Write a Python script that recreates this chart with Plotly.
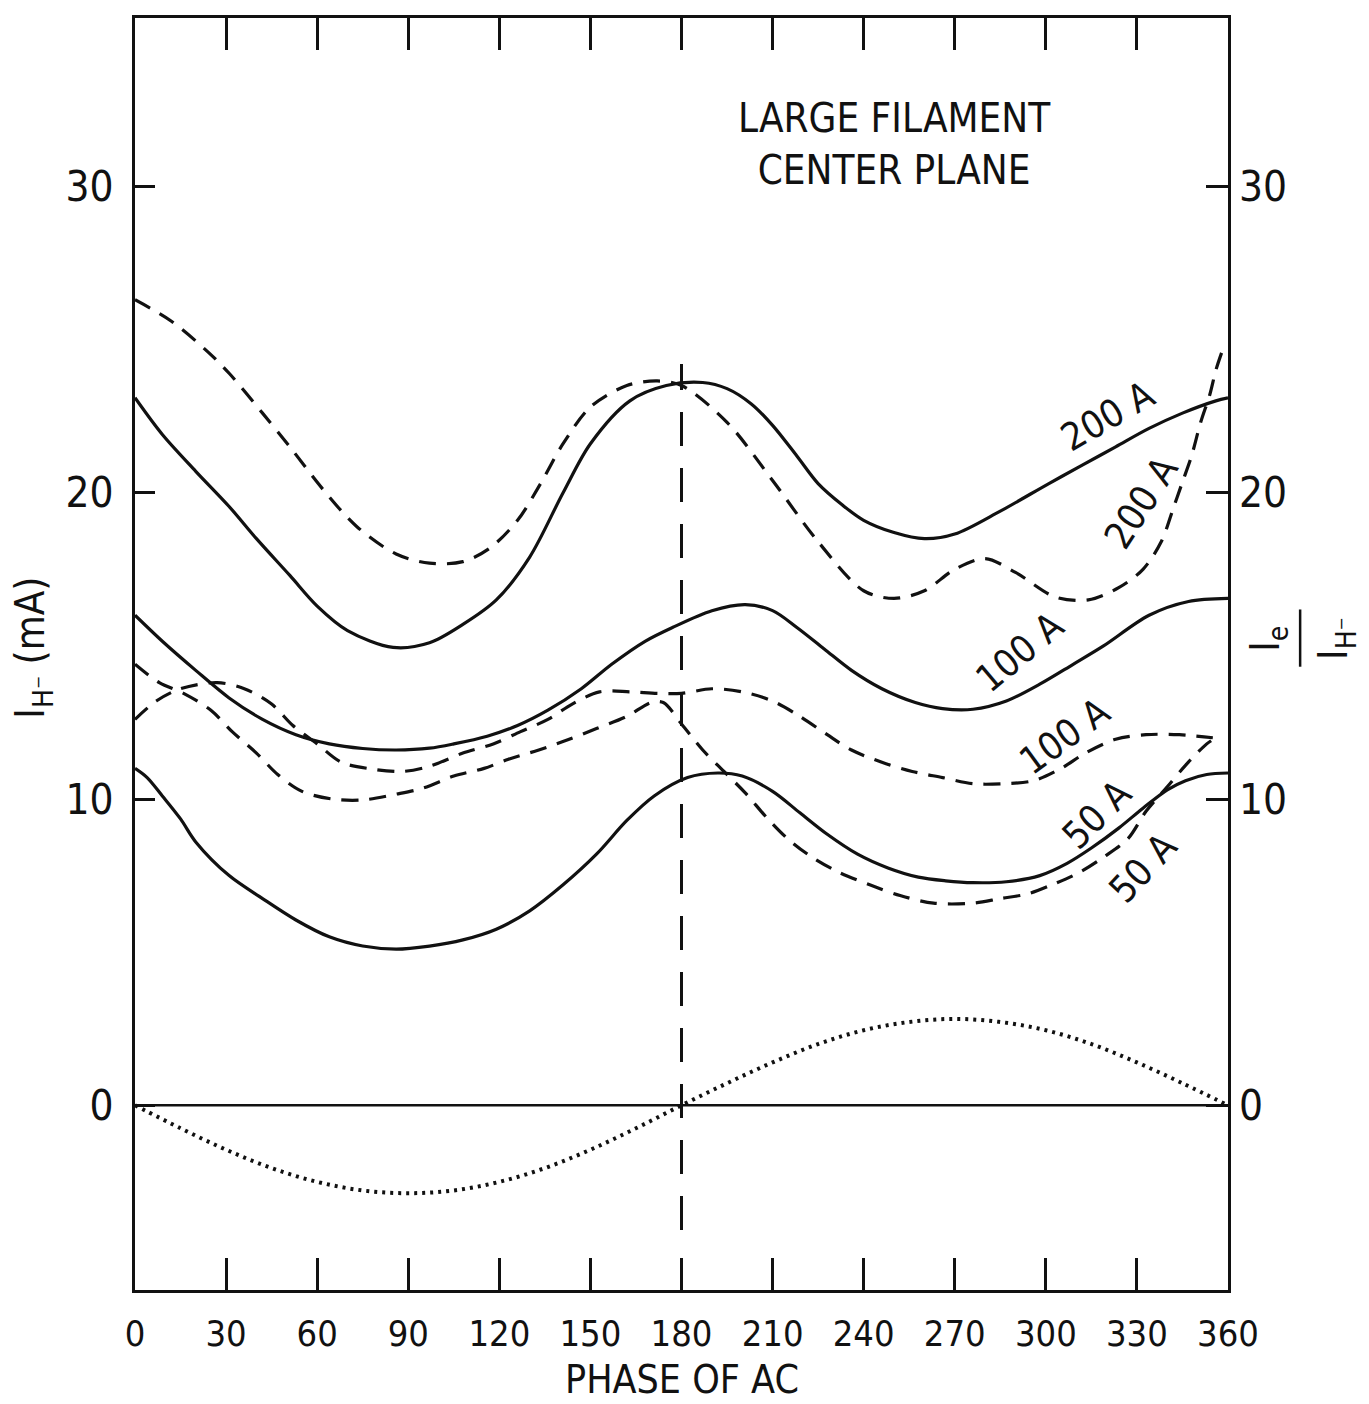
import plotly.graph_objects as go

# ---------------- data ----------------
x_ticks = [0, 30, 60, 90, 120, 150, 180, 210, 240, 270, 300, 330, 360]
y_ticks = [0, 10, 20, 30]

ph_s200 = [0, 9, 20, 31, 40, 51, 60, 70, 85, 97, 108, 119, 130, 141, 150, 163, 175, 187,
           195, 203, 210, 218, 225, 233, 240, 250, 260, 270, 285, 301, 312, 323, 334, 345, 356, 360]
s200 = [23.1, 21.9, 20.7, 19.55, 18.5, 17.3, 16.3, 15.5, 14.95, 15.1, 15.7, 16.5, 17.9, 20.0,
        21.6, 23.0, 23.5, 23.6, 23.4, 22.9, 22.2, 21.2, 20.3, 19.6, 19.1, 18.7, 18.5, 18.65,
        19.4, 20.3, 20.9, 21.5, 22.1, 22.6, 23.0, 23.1]

ph_d200 = [0, 12, 24, 31, 42, 51, 62, 73, 86, 97, 108, 117, 126, 133, 141, 150, 162, 172,
           180, 195, 210, 225, 240, 250, 260, 270, 280, 290, 303, 314, 324, 332, 338, 342,
           345, 348, 351, 354, 356, 358]
d200 = [26.3, 25.6, 24.6, 23.9, 22.6, 21.5, 20.1, 18.9, 18.0, 17.7, 17.75, 18.2, 19.1, 20.2,
        21.6, 22.8, 23.5, 23.65, 23.5, 22.3, 20.4, 18.4, 16.8, 16.55, 16.8, 17.5, 17.85, 17.4,
        16.6, 16.5, 16.9, 17.5, 18.4, 19.5, 20.35, 21.2, 22.3, 23.2, 24.0, 24.6]

ph_s100 = [0, 9, 20, 31, 42, 53, 64, 75, 86, 97, 105, 116, 126, 136, 147, 157, 168, 177,
           190, 201, 210, 218, 227, 236, 246, 257, 266, 276, 287, 298, 309, 319, 334, 347, 360]
s100 = [16.0, 15.15, 14.2, 13.3, 12.6, 12.1, 11.8, 11.65, 11.6, 11.66, 11.8, 12.05, 12.4,
        12.9, 13.6, 14.4, 15.15, 15.6, 16.15, 16.35, 16.15, 15.6, 14.9, 14.2, 13.6, 13.15, 12.95,
        12.93, 13.2, 13.75, 14.4, 15.0, 16.0, 16.45, 16.55]

ph_d100 = [0, 7, 15, 27, 36, 45, 52, 60, 68, 78, 88, 97, 108, 118, 127, 136, 144, 153, 163,
           172, 180, 190, 200, 210, 219, 228, 236, 246, 256, 266, 276, 286, 296, 305, 313,
           323, 333, 344, 355]
d100 = [12.6, 13.2, 13.6, 13.8, 13.6, 13.1, 12.4, 11.8, 11.2, 10.98, 10.9, 11.07, 11.5, 11.8,
        12.2, 12.6, 13.1, 13.5, 13.5, 13.45, 13.45, 13.6, 13.5, 13.2, 12.7, 12.1, 11.6, 11.2,
        10.9, 10.7, 10.5, 10.5, 10.6, 11.0, 11.5, 11.95, 12.1, 12.1, 12.0]

ph_s50 = [0, 4, 9, 15, 20, 31, 42, 53, 64, 75, 86, 97, 108, 119, 130, 141, 152, 162, 171,
          182, 192, 200, 210, 219, 228, 238, 248, 258, 267, 276, 287, 298, 307, 315, 324,
          332, 340, 346, 353, 360]
s50 = [11.0, 10.7, 10.1, 9.35, 8.6, 7.5, 6.75, 6.05, 5.5, 5.2, 5.1, 5.2, 5.4, 5.75, 6.35,
       7.2, 8.2, 9.3, 10.1, 10.7, 10.85, 10.75, 10.25, 9.55, 8.85, 8.2, 7.75, 7.45, 7.33, 7.27,
       7.3, 7.5, 7.9, 8.4, 9.05, 9.7, 10.3, 10.6, 10.8, 10.85]

ph_d50 = [0, 8, 16, 25, 32, 40, 47, 55, 65, 75, 86, 95, 105, 115, 123, 133, 143, 152, 162,
          170, 174, 180, 187, 194, 201, 208, 215, 223, 232, 242, 252, 263, 276, 285, 294,
          302, 311, 319, 327, 333, 340, 346, 353, 356]
d50 = [14.4, 13.8, 13.45, 12.9, 12.2, 11.5, 10.8, 10.25, 10.0, 9.97, 10.16, 10.36, 10.75,
       11.0, 11.3, 11.6, 11.95, 12.3, 12.7, 13.15, 13.15, 12.45, 11.6, 10.9, 10.2, 9.4, 8.7,
       8.1, 7.6, 7.2, 6.85, 6.6, 6.6, 6.75, 6.9, 7.2, 7.6, 8.1, 8.7, 9.6, 10.4, 11.1, 11.8,
       12.0]

ph_ac = [0, 15, 30, 45, 60, 75, 90, 105, 120, 135, 150, 165, 180, 195, 210, 225, 240, 255,
         270, 285, 300, 315, 330, 345, 360]
ac = [0, -0.75, -1.45, -2.05, -2.5, -2.78, -2.87, -2.78, -2.5, -2.05, -1.45, -0.75, 0,
      0.72, 1.4, 2.0, 2.45, 2.72, 2.82, 2.72, 2.45, 2.0, 1.4, 0.72, 0]

zero_x = [0, 360]
zero_y = [0, 0]
marker_x = [180, 180]
marker_y = [-4.07, 24.2]

curve_labels = [
    # text, phase, value, angle
    ("200 A", 320.5, 22.5, -30),
    ("200 A", 331.5, 19.7, -57),
    ("100 A", 291.5, 14.8, -40),
    ("100 A", 306.3, 12.05, -36),
    ("50 A", 317, 9.5, -45),
    ("50 A", 332, 7.75, -47),
]

FONT = "Liberation Sans Narrow, Arial Narrow, DejaVu Sans Condensed, Liberation Sans, sans-serif"
BLACK = "#111111"

fig = go.Figure()

def solid(xs, ys):
    fig.add_trace(go.Scatter(x=xs, y=ys, mode="lines",
                             line=dict(color=BLACK, width=3.2, shape="spline", smoothing=0.9),
                             showlegend=False, hoverinfo="skip"))

def dashed(xs, ys):
    fig.add_trace(go.Scatter(x=xs, y=ys, mode="lines",
                             line=dict(color=BLACK, width=3.2, dash="17px,11px", shape="spline", smoothing=0.9),
                             showlegend=False, hoverinfo="skip"))

solid(ph_s200, s200)
dashed(ph_d200, d200)
solid(ph_s100, s100)
dashed(ph_d100, d100)
solid(ph_s50, s50)
dashed(ph_d50, d50)

fig.add_trace(go.Scatter(x=ph_ac, y=ac, mode="lines",
                         line=dict(color=BLACK, width=4, dash="3px,5px", shape="spline"),
                         showlegend=False, hoverinfo="skip"))
fig.add_trace(go.Scatter(x=zero_x, y=zero_y, mode="lines", line=dict(color=BLACK, width=2.5),
                         showlegend=False, hoverinfo="skip"))
fig.add_trace(go.Scatter(x=marker_x, y=marker_y, mode="lines",
                         line=dict(color=BLACK, width=3, dash="34px,22px"),
                         showlegend=False, hoverinfo="skip"))
# invisible trace for right axis
fig.add_trace(go.Scatter(x=zero_x, y=zero_y, yaxis="y2", mode="lines", line=dict(width=0),
                         opacity=0, showlegend=False, hoverinfo="skip"))

YR = [-6.03, 35.5]
fig.update_layout(
    width=1361, height=1396,
    margin=dict(l=127, r=141, t=7, b=114),
    paper_bgcolor="white", plot_bgcolor="white",
    font=dict(family=FONT, color=BLACK, size=40),
    xaxis=dict(range=[0, 360], tickvals=x_ticks, ticks="inside", ticklen=32, tickwidth=2.5,
               tickcolor=BLACK, showline=True, linewidth=3, linecolor=BLACK, mirror="ticks",
               showgrid=False, zeroline=False, tickfont=dict(size=36, family=FONT),
               ticklabelstandoff=10),
    yaxis=dict(range=YR, tickvals=y_ticks, ticks="inside", ticklen=20, tickwidth=2.5,
               tickcolor=BLACK, showline=True, linewidth=3, linecolor=BLACK, mirror=True,
               showgrid=False, zeroline=False, tickfont=dict(size=42, family=FONT),
               ticklabelstandoff=10),
    yaxis2=dict(range=YR, tickvals=y_ticks, ticks="inside", ticklen=22, tickwidth=2.5,
                tickcolor=BLACK, overlaying="y", side="right", showline=False,
                showgrid=False, zeroline=False, tickfont=dict(size=42, family=FONT),
                ticklabelstandoff=10),
)

ann = []
def add_ann(**kw):
    d = dict(showarrow=False, xanchor="center", yanchor="middle")
    d.update(kw)
    ann.append(d)

add_ann(text="LARGE FILAMENT<br>CENTER PLANE", x=0.695, y=0.901, xref="paper", yref="paper",
        font=dict(size=40, family=FONT), align="center")
add_ann(text="PHASE OF AC", x=0.5, y=-0.0706, xref="paper", yref="paper",
        font=dict(size=39, family=FONT))
add_ann(text="I<sub>H⁻</sub> (mA)", x=-0.0933, y=0.505, xref="paper", yref="paper",
        textangle=-90, font=dict(size=40, family=FONT))
add_ann(text="I<sub>e</sub>", x=1.0366, y=0.512, xref="paper", yref="paper",
        textangle=-90, font=dict(size=40, family=FONT))
add_ann(text="I<sub>H⁻</sub>", x=1.099, y=0.512, xref="paper", yref="paper",
        textangle=-90, font=dict(size=40, family=FONT))
for t, px, py, ang in curve_labels:
    add_ann(text=t, x=px, y=py, xref="x", yref="y", textangle=ang,
            font=dict(size=38, family=FONT))
fig.update_layout(annotations=ann)
fig.add_shape(type="line", xref="paper", yref="paper", x0=1.066, x1=1.066, y0=0.49, y1=0.535,
              line=dict(color=BLACK, width=2.5))

fig.write_html("out.html")
